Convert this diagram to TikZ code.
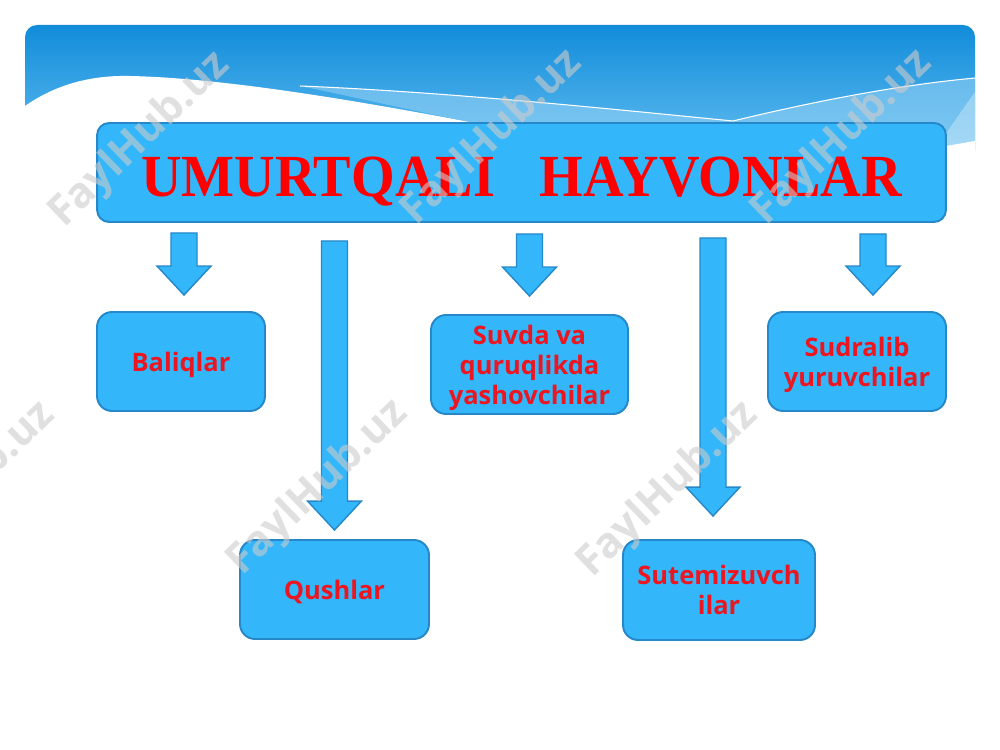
\documentclass[tikz,border=0pt]{standalone}
\usepackage{fontspec}
\setmainfont{Liberation Serif}
\newfontfamily\labelfont{Open Sans}
\usetikzlibrary{calc}
\definecolor{hdrdark}{RGB}{18,140,218}
\definecolor{hdrlight}{RGB}{95,188,240}
\definecolor{bandblue}{RGB}{150,210,245}
\definecolor{boxfill}{RGB}{51,182,250}
\definecolor{boxedge}{RGB}{38,136,200}
\definecolor{boxred}{RGB}{236,22,32}
% block arrow from the title down to a box: target, dx, top gap, tip gap
\newcommand\downarr[4]{%
  \path ($(title.south -| #1.north)+(#2,#3)$) coordinate (#1-s)
        ($(#1.north)+(#2,-#4)$) coordinate (#1-t);
  \draw[blockarr] ($(#1-s)+(-13,0)$) -- ($(#1-t)+(-13,-29)$) -- ($(#1-t)+(-27,-29)$)
    -- (#1-t) -- ($(#1-t)+(27,-29)$) -- ($(#1-t)+(13,-29)$) -- ($(#1-s)+(13,0)$) -- cycle;}

\begin{document}
\begin{tikzpicture}[x=0.02cm, y=-0.02cm,
    box/.style={draw=boxedge, fill=boxfill, line width=1.1pt, rounded corners=0.3cm,
      minimum height=1.98cm, inner sep=0pt, align=center, text=boxred, text depth=0pt,
      font=\labelfont\bfseries\fontsize{14.5}{17}\selectfont},
    blockarr/.style={draw=boxedge, fill=boxfill, line width=0.8pt},
    wmark/.style={text=gray!40, opacity=0.6, rotate=44,
      font=\labelfont\bfseries\fontsize{24}{24}\selectfont}]
    %%%%% START %%%%%
    \useasboundingbox[fill=white] (0,0) rectangle (1000,750);

    % header band with waves
    \begin{scope}
        \clip[rounded corners=0.24cm] (25,25) rectangle (975,170);
        \shade[top color=hdrdark, bottom color=hdrlight] (25,25) rectangle (975,150);
        \fill[bandblue, opacity=0.55] (300,86) .. controls (450,92) and (620,110) .. (733,121)
            .. controls (820,100) and (900,85) .. (975,78) -- (975,150) -- (480,150)
            -- (480,124) .. controls (400,108) and (340,94) .. (300,86) -- cycle;
        \fill[white, opacity=0.3] (975,92) .. controls (955,120) and (945,135) .. (935,150)
            -- (975,150) -- cycle;
        \draw[white, line width=0.6pt] (300,86) .. controls (450,92) and (620,110) .. (733,121)
            .. controls (820,100) and (900,85) .. (975,78);
        \fill[white] (25,106) .. controls (55,85) and (90,75) .. (130,76)
            .. controls (230,78) and (380,105) .. (480,124) -- (946,146) -- (975,141)
            -- (975,170) -- (25,170) -- cycle;
    \end{scope}

    % title
    \node[box, rounded corners=0.24cm, minimum width=16.98cm, text=red, text height=0.98cm,
        font=\bfseries\fontsize{34}{34}\selectfont] (title) at (521.5,172.5)
        {\scalebox{0.94}[1]{UMURTQALI\hspace{0.8em}HAYVONLAR}};

    % groups
    \node[box, minimum width=3.36cm] (fish) at (181,361.5) {Baliqlar};
    \node[box, minimum width=3.94cm] (amph) at (529.5,364.5) {Suvda va\\quruqlikda\\yashovchilar};
    \node[box, minimum width=3.56cm] (rept) at (857,361.5) {Sudralib\\yuruvchilar};
    \node[box, minimum width=3.78cm] (bird) at (334.5,589.5) {Qushlar};
    \node[box, minimum width=3.84cm, minimum height=2cm] (mamm) at (719,590) {Sutemizuvch\\ilar};

    % arrows
    \downarr{fish}{3}{10}{16}
    \downarr{bird}{0}{18}{9}
    \downarr{amph}{0}{11}{18}
    \downarr{mamm}{-6}{15}{23}
    \downarr{rept}{16}{11}{16}

    % watermarks
    \node[wmark] (wm1) at (140,140) {FaylHub.uz};
    \node[wmark] (wm2) at (492,138) {FaylHub.uz};
    \node[wmark] (wm3) at (842,138) {FaylHub.uz};
    \node[wmark] (wm4) at (-35,490) {FaylHub.uz};
    \node[wmark] (wm5) at (318,488) {FaylHub.uz};
    \node[wmark] (wm6) at (668,490) {FaylHub.uz};
    %%%%% END %%%%%
\end{tikzpicture}
\end{document}
